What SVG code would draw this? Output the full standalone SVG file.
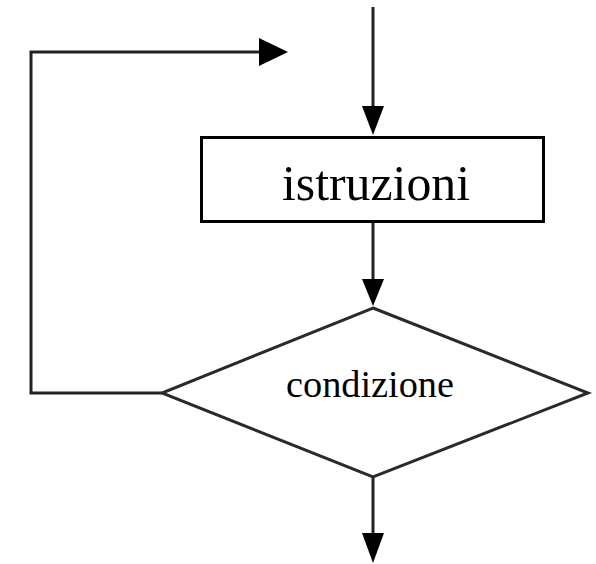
<svg xmlns="http://www.w3.org/2000/svg" width="596" height="564" viewBox="0 0 596 564">
  <style>
    .wire { fill: none; stroke: #222; stroke-width: 3; }
    .box { fill: #fff; stroke: #000; stroke-width: 3; }
    .dia { fill: #fff; stroke: #2a2a2a; stroke-width: 3; }
    .lbl { font-family: "Liberation Serif", "Times New Roman", serif; fill: #000; text-anchor: middle; }
    .head { fill: #000; }
  </style>
  <rect width="596" height="564" fill="#fff"/>
  <g id="connectors">
    <line class="wire" x1="373" y1="7" x2="373" y2="112"/>
    <polygon class="head" points="362,106 384,106 373,135"/>
    <line class="wire" x1="373" y1="222" x2="373" y2="284"/>
    <polygon class="head" points="362,279 384,279 373,306"/>
    <polyline class="wire" points="162,393 31,393 31,52 264,52"/>
    <polygon class="head" points="259,38 259,66 288,52"/>
    <line class="wire" x1="373" y1="477" x2="373" y2="540"/>
    <polygon class="head" points="362,533 384,533 373,563"/>
  </g>
  <g id="istruzioni">
    <rect class="box" x="201.5" y="137.5" width="342" height="84"/>
    <text class="lbl" x="376" y="200" font-size="50" textLength="188" lengthAdjust="spacingAndGlyphs">istruzioni</text>
  </g>
  <g id="condizione">
    <polygon class="dia" points="373,308 588,393 373,477 162,393"/>
    <text class="lbl" x="370" y="397" font-size="38" textLength="168" lengthAdjust="spacingAndGlyphs">condizione</text>
  </g>
</svg>
